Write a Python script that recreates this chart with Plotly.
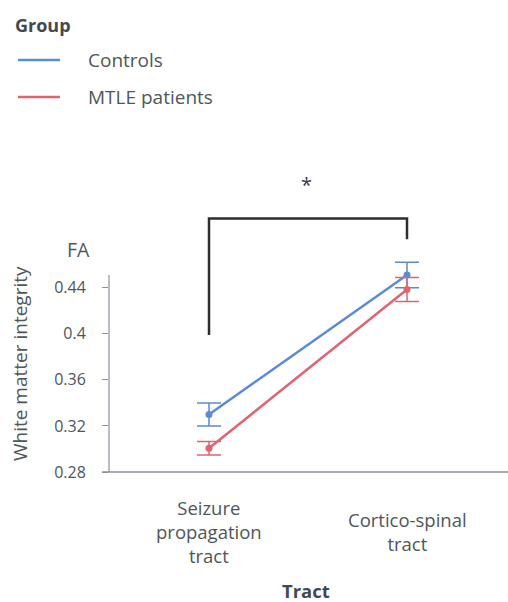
import plotly.graph_objects as go

# Mean FA per tract and group, with error-bar half-widths
tracts = ["Seizure<br>propagation<br>tract", "Cortico-spinal<br>tract"]
groups = ["Controls", "MTLE patients"]
controls_fa = [0.330, 0.451]
controls_err = [0.010, 0.011]
mtle_fa = [0.3006, 0.4385]
mtle_err = [0.0058, 0.0104]
y_ticks = [0.28, 0.32, 0.36, 0.40, 0.44]
y_tick_text = ["0.28", "0.32", "0.36", "0.4", "0.44"]

BLUE = "#5b8ad6"
RED = "#e06470"
TEXT = "#50555c"
FONT = "Open Sans"

x_pos = list(range(len(tracts)))

fig = go.Figure()
for name, vals, errs, col in [
    (groups[0], controls_fa, controls_err, BLUE),
    (groups[1], mtle_fa, mtle_err, RED),
]:
    fig.add_trace(go.Scatter(
        x=x_pos, y=vals, name=name, mode="lines+markers",
        line=dict(color=col, width=2.5),
        marker=dict(color=col, size=7),
        error_y=dict(type="data", array=errs, visible=True,
                     color=col, thickness=1.5, width=12),
        showlegend=False,
    ))

y_min, y_max = 0.28, 0.53
L, R, T, B = 109, 0, 184, 130
W, H = 508, 602
pw, ph = W - L - R, H - T - B


def px(xp):
    return (xp - L) / pw


def py(yp):
    return (H - B - yp) / ph


shapes = []
annotations = []


def label(x, y, text, size, xanchor="center", color=TEXT, **kw):
    annotations.append(dict(x=x, y=y, xref="paper", yref="paper", text=text,
                            showarrow=False, xanchor=xanchor, yanchor="middle",
                            font=dict(family=FONT, size=size, color=color), **kw))


# y axis line only over the ticked span
shapes.append(dict(type="line", xref="paper", yref="y", x0=0, x1=0,
                   y0=y_min, y1=0.451, line=dict(color="#8a8f9c", width=1.2)))
# x axis line running slightly past the y axis
shapes.append(dict(type="line", xref="paper", yref="paper", x0=px(102), x1=1,
                   y0=0, y1=0, line=dict(color="#8a8f9c", width=1.4)))

# significance bracket
shapes.append(dict(type="path", xref="x", yref="y",
                   path=f"M {x_pos[0]},0.399 L {x_pos[0]},0.5 L {x_pos[1]},0.5 L {x_pos[1]},0.482",
                   line=dict(color="#2d2d2d", width=2.5)))
label(px(306), py(184), "*", 20, color="#3a3d45")

# category labels, centred vertically
for xi, t in zip(x_pos, tracts):
    annotations.append(dict(x=xi, y=py(531), xref="x", yref="paper", text=t,
                            showarrow=False, xanchor="center", yanchor="middle",
                            align="center", font=dict(family=FONT, size=18.5, color=TEXT)))

# axis titles
label(px(306), py(590), "<b>Tract</b>", 18.5, color="#44484e")
label(px(20), py(364), "White matter integrity", 19, textangle=-90)
label(px(78), py(249), "FA", 19.5)

# legend
label(px(13), py(25), "<b>Group</b>", 18, xanchor="left", color="#44484e")
for name, col, yy in [(groups[0], BLUE, 60), (groups[1], RED, 97)]:
    shapes.append(dict(type="line", xref="paper", yref="paper", x0=px(18), x1=px(60),
                       y0=py(yy), y1=py(yy), line=dict(color=col, width=2.5)))
    label(px(86), py(yy), name, 19, xanchor="left")

fig.update_layout(
    width=W, height=H,
    margin=dict(l=L, r=R, t=T, b=B),
    paper_bgcolor="white", plot_bgcolor="white",
    shapes=shapes, annotations=annotations,
    xaxis=dict(range=[-0.505, 1.51], showgrid=False, zeroline=False, showline=False,
               showticklabels=False, ticks=""),
    yaxis=dict(range=[y_min, y_max], showgrid=False, zeroline=False, showline=False,
               tickvals=y_ticks, ticktext=y_tick_text, ticks="outside", ticklen=6,
               tickcolor="#8a8f9c", ticklabelstandoff=13,
               tickfont=dict(family=FONT, size=16, color=TEXT)),
)

fig.write_html("out.html")
